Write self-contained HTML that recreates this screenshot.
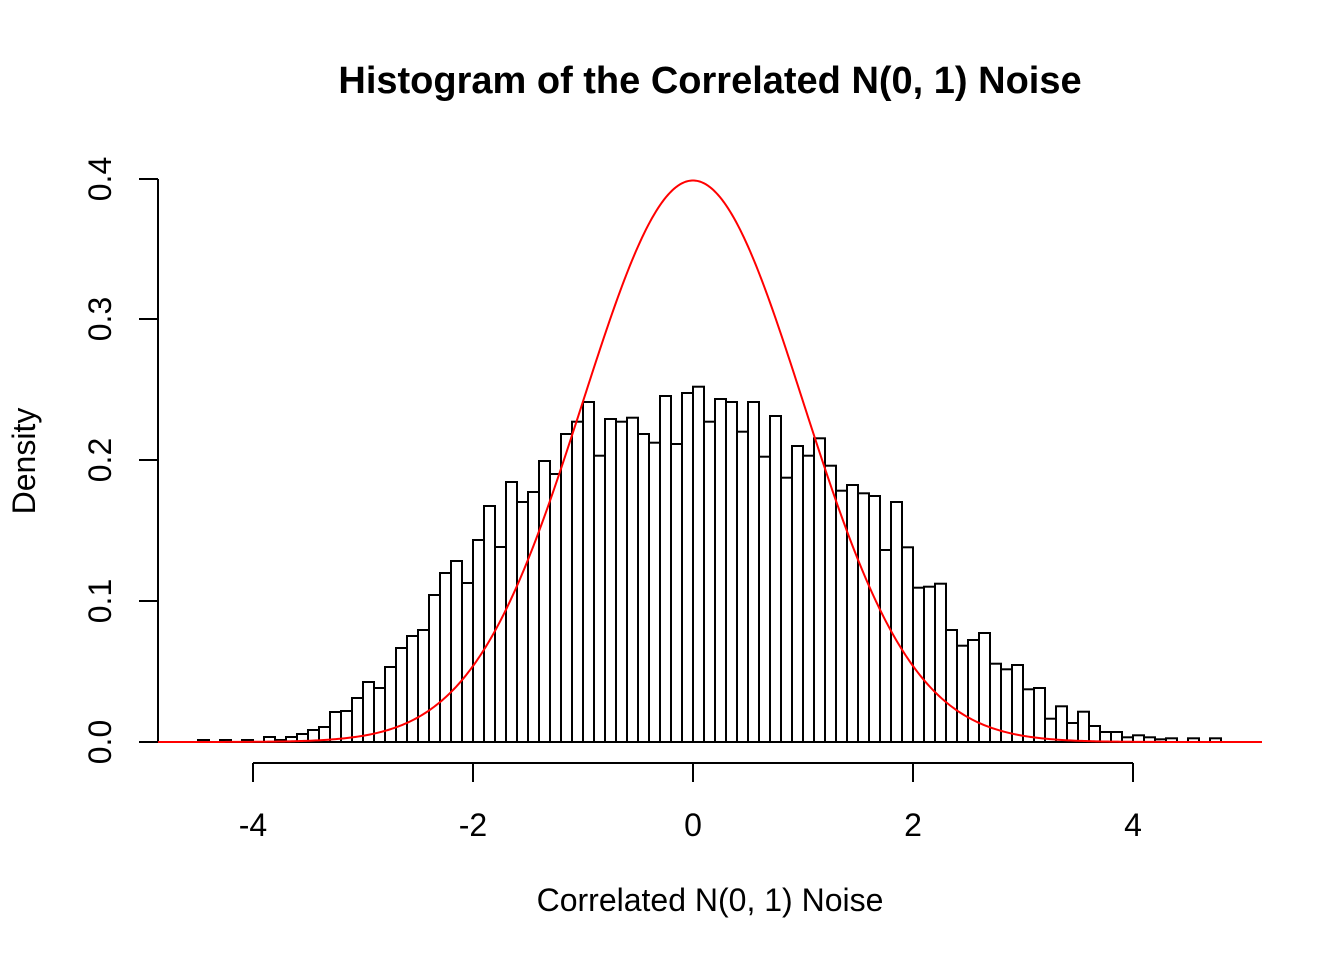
<!DOCTYPE html>
<html><head><meta charset="utf-8"><style>html,body{margin:0;padding:0;background:#fff}svg{display:block}</style></head>
<body>
<svg id="s" width="1344" height="960" xmlns="http://www.w3.org/2000/svg" font-family="Liberation Sans, Arial, sans-serif">
<rect width="1344" height="960" fill="#fff"/>
<text x="710" y="93" font-size="38" font-weight="bold" text-anchor="middle">Histogram of the Correlated N(0, 1) Noise</text>
<text x="710" y="911" font-size="32" text-anchor="middle">Correlated N(0, 1) Noise</text>
<text transform="translate(35,461) rotate(-90)" font-size="32" text-anchor="middle">Density</text>
<g id="bars" fill="none" stroke="#000" stroke-width="2"></g>
<g stroke="#000" stroke-width="2" fill="none">
<line x1="158" y1="179" x2="158" y2="742"/>
<line x1="158" y1="742" x2="139" y2="742"/><line x1="158" y1="601" x2="139" y2="601"/><line x1="158" y1="460" x2="139" y2="460"/><line x1="158" y1="319" x2="139" y2="319"/><line x1="158" y1="179" x2="139" y2="179"/>
<line x1="253" y1="763" x2="1133" y2="763"/>
<line x1="253" y1="763" x2="253" y2="782"/><line x1="473" y1="763" x2="473" y2="782"/><line x1="693" y1="763" x2="693" y2="782"/><line x1="913" y1="763" x2="913" y2="782"/><line x1="1133" y1="763" x2="1133" y2="782"/>
</g>
<g font-size="32" text-anchor="middle">
<text x="253" y="836">-4</text><text x="473" y="836">-2</text><text x="693" y="836">0</text><text x="913" y="836">2</text><text x="1133" y="836">4</text>
<text transform="translate(111,742) rotate(-90)">0.0</text>
<text transform="translate(111,601) rotate(-90)">0.1</text>
<text transform="translate(111,460) rotate(-90)">0.2</text>
<text transform="translate(111,319) rotate(-90)">0.3</text>
<text transform="translate(111,179) rotate(-90)">0.4</text>
</g>
<polyline id="curve" fill="none" stroke="#f00" stroke-width="2"/>
</svg>
<script>
var tops=[740,742,740,742,740,742,737,740,737,734,730,727,712,711,698,682,688,667,648,636,630,595,573,561,583,540,506,547,482,502,492,461,474,434,421.7,402,455.7,419,421.7,417.7,434,442.7,396,444,393,386.7,421.7,399,402,431.7,402,456.7,416,477.7,446,455.7,438.3,465.7,490.7,485,493.3,496,550,502,547.3,587.7,586.7,583.7,630,645.7,640,633,663.7,669.3,665,689.3,688,718.7,706.3,723,711.7,726,732,732,737.3,735.3,737.3,739.3,738.3,742,738.3,742,738.3];
var g=document.getElementById('bars'),h='';
for(var i=0;i<tops.length;i++){var x=198+i*11;var t=tops[i];if(t<742)h+='<rect x="'+x+'" y="'+t+'" width="11" height="'+(742-t)+'"/>';}
h+='<line x1="198" y1="742" x2="1222" y2="742"/>';
g.innerHTML=h;
var p=[];for(var px=158;px<=1262;px+=2){var u=(px-693)/110;var y=742-1407.5*0.398942*Math.exp(-u*u/2);p.push(px+','+y.toFixed(2));}
document.getElementById('curve').setAttribute('points',p.join(' '));
</script>
</body></html>
